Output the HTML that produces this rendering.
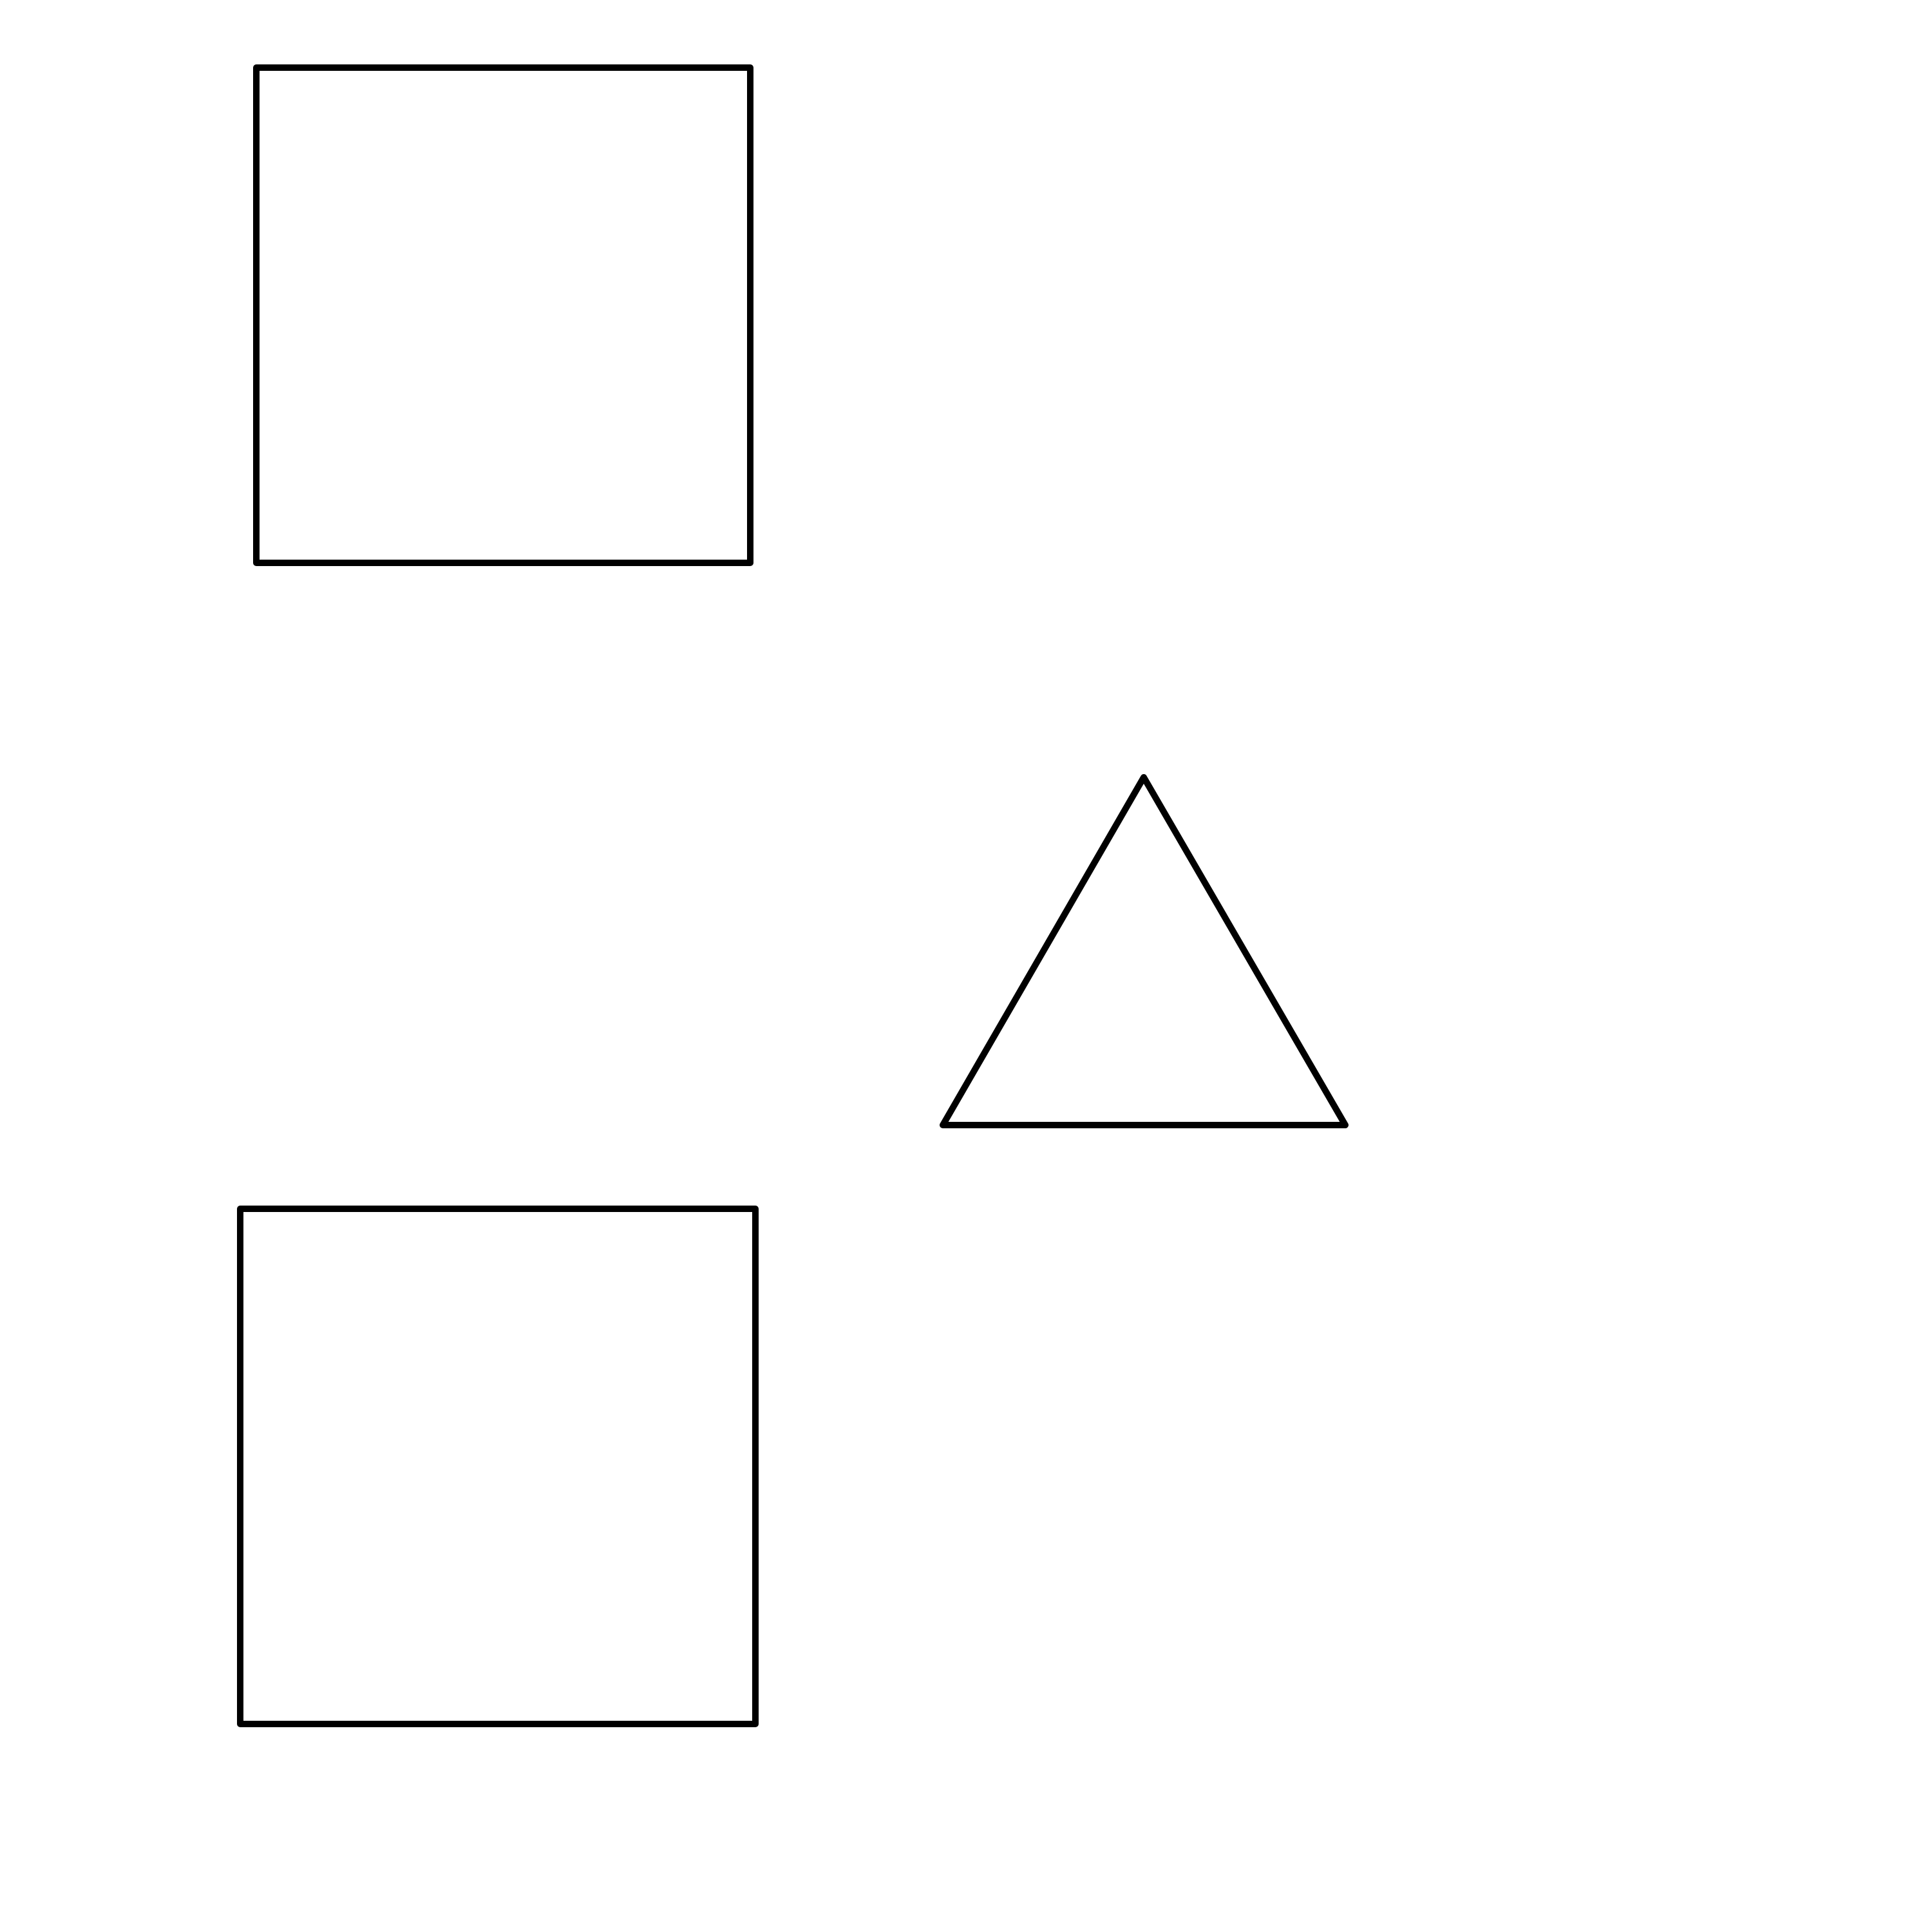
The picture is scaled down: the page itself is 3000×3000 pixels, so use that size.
<!DOCTYPE html>
<html>
<head>
<meta charset="utf-8">
<style>
  html, body { margin: 0; padding: 0; background: #fff; }
  svg { display: block; }
</style>
</head>
<body>
<svg id="chart" width="3000" height="3000" viewBox="0 0 3000 3000" xmlns="http://www.w3.org/2000/svg">
  <rect x="0" y="0" width="3000" height="3000" fill="#ffffff"/>
</svg>
<script>
// Shape data (in pixel units of the canvas)
const squareNames = ['top-square', 'bottom-square'];
const squareX = [398, 373];
const squareY = [105, 1877];
const squareW = [767, 800];
const squareH = [769, 800];
const triangleApex = [1776, 1207];
const triangleBase = [1464, 2089, 1747]; // left x, right x, y

const svg = document.getElementById('chart');
const NS = 'http://www.w3.org/2000/svg';
const strokeW = 10;

for (let i = 0; i < squareNames.length; i++) {
  const r = document.createElementNS(NS, 'rect');
  r.setAttribute('x', squareX[i]);
  r.setAttribute('y', squareY[i]);
  r.setAttribute('width', squareW[i]);
  r.setAttribute('height', squareH[i]);
  r.setAttribute('fill', 'none');
  r.setAttribute('stroke', '#000');
  r.setAttribute('stroke-width', strokeW);
  r.setAttribute('stroke-linejoin', 'round');
  
  
  svg.appendChild(r);
}

const tri = document.createElementNS(NS, 'polygon');
tri.setAttribute('points',
  triangleApex[0] + ',' + triangleApex[1] + ' ' +
  triangleBase[1] + ',' + triangleBase[2] + ' ' +
  triangleBase[0] + ',' + triangleBase[2]);
tri.setAttribute('fill', 'none');
tri.setAttribute('stroke', '#000');
tri.setAttribute('stroke-width', strokeW);
tri.setAttribute('stroke-linejoin', 'round');


svg.appendChild(tri);
</script>
</body>
</html>
